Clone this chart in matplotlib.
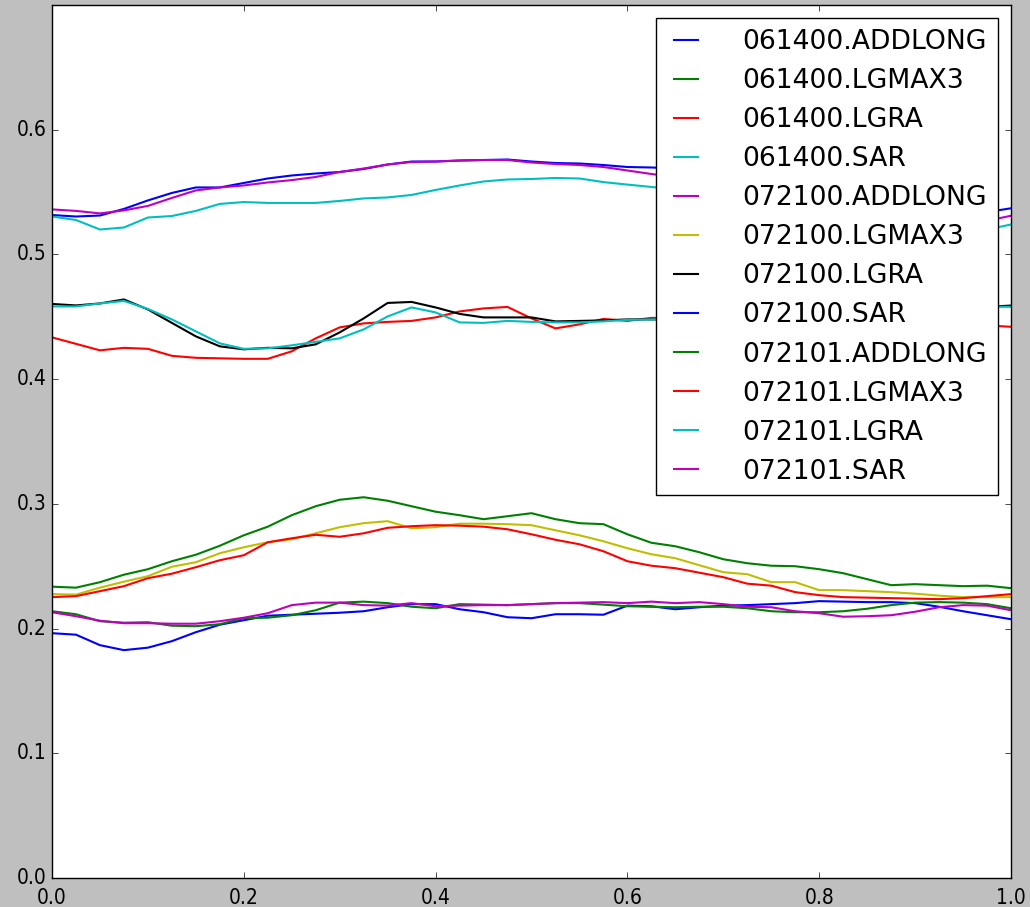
import numpy as np
import matplotlib
matplotlib.use('Agg')
import matplotlib.pyplot as plt

plt.style.use('classic')

# 41 samples on [0, 1]
x = np.linspace(0.0, 1.0, 41)

labels = ['061400.ADDLONG', '061400.LGMAX3', '061400.LGRA', '061400.SAR',
          '072100.ADDLONG', '072100.LGMAX3', '072100.LGRA', '072100.SAR',
          '072101.ADDLONG', '072101.LGMAX3', '072101.LGRA', '072101.SAR']

addlong_061400 = [0.5316, 0.5304, 0.5312, 0.5365, 0.5433, 0.5493, 0.5537, 0.5537, 0.5573, 0.5609,
                  0.5633, 0.5649, 0.5661, 0.5685, 0.5721, 0.5745, 0.5745, 0.5753, 0.5757, 0.5761,
                  0.5745, 0.5733, 0.5729, 0.5717, 0.5701, 0.5697, 0.569, 0.568, 0.567, 0.566,
                  0.564, 0.562, 0.560, 0.558, 0.555, 0.552, 0.549, 0.545, 0.540, 0.534, 0.537]
lgmax3_061400 = [0.2336, 0.2328, 0.2372, 0.2432, 0.2476, 0.2540, 0.2592, 0.2664, 0.2748, 0.2817,
                 0.2909, 0.2981, 0.3033, 0.3053, 0.3025, 0.2981, 0.2937, 0.2909, 0.2877, 0.2901,
                 0.2925, 0.2877, 0.2845, 0.2837, 0.2756, 0.2688, 0.2660, 0.2612, 0.2556, 0.2524,
                 0.2504, 0.2500, 0.2476, 0.2444, 0.2396, 0.2348, 0.2356, 0.2348, 0.2340, 0.2344, 0.2324]
lgra_061400 = [0.4335, 0.4283, 0.4231, 0.4251, 0.4243, 0.4187, 0.4171, 0.4167, 0.4163, 0.4163,
               0.4223, 0.4327, 0.4415, 0.4447, 0.4459, 0.4467, 0.4495, 0.4543, 0.4567, 0.4579,
               0.4487, 0.4407, 0.4439, 0.4483, 0.4467, 0.4491, 0.449, 0.448, 0.449, 0.448,
               0.447, 0.448, 0.449, 0.448, 0.447, 0.446, 0.445, 0.445, 0.444, 0.443, 0.442]
sar_061400 = [0.5304, 0.5276, 0.5200, 0.5216, 0.5296, 0.5308, 0.5349, 0.5405, 0.5420, 0.5413,
              0.5413, 0.5413, 0.5429, 0.5449, 0.5457, 0.5477, 0.5517, 0.5553, 0.5585, 0.5601,
              0.5605, 0.5613, 0.5609, 0.5580, 0.5560, 0.5541, 0.552, 0.550, 0.548, 0.546,
              0.545, 0.543, 0.541, 0.539, 0.537, 0.534, 0.531, 0.528, 0.524, 0.520, 0.524]
addlong_072100 = [0.5361, 0.5349, 0.5329, 0.5353, 0.5389, 0.5453, 0.5513, 0.5537, 0.5553, 0.5577,
                  0.5596, 0.5621, 0.5661, 0.5689, 0.5721, 0.5741, 0.5745, 0.5753, 0.5757, 0.5757,
                  0.5737, 0.5725, 0.5717, 0.5701, 0.5673, 0.5645, 0.562, 0.560, 0.558, 0.556,
                  0.554, 0.552, 0.549, 0.546, 0.543, 0.540, 0.537, 0.533, 0.530, 0.527, 0.531]
lgmax3_072100 = [0.2276, 0.2272, 0.2328, 0.2376, 0.2420, 0.2496, 0.2532, 0.2604, 0.2652, 0.2692,
                 0.2716, 0.2764, 0.2813, 0.2845, 0.2861, 0.2804, 0.2813, 0.2841, 0.2841, 0.2837,
                 0.2829, 0.2788, 0.2748, 0.2700, 0.2644, 0.2596, 0.2564, 0.2508, 0.2452, 0.2436,
                 0.2372, 0.2372, 0.2308, 0.2308, 0.2300, 0.2292, 0.2280, 0.2264, 0.2252, 0.2252, 0.2252]
lgra_072100 = [0.4603, 0.4591, 0.4607, 0.4639, 0.4559, 0.4451, 0.4343, 0.4263, 0.4239, 0.4251,
               0.4247, 0.4279, 0.4375, 0.4487, 0.4611, 0.4619, 0.4575, 0.4523, 0.4495, 0.4495,
               0.4495, 0.4463, 0.4467, 0.4471, 0.4479, 0.4479, 0.448, 0.449, 0.450, 0.451,
               0.451, 0.452, 0.453, 0.453, 0.454, 0.455, 0.456, 0.457, 0.458, 0.458, 0.459]
sar_072100 = [0.1963, 0.1951, 0.1867, 0.1827, 0.1847, 0.1899, 0.1971, 0.2031, 0.2067, 0.2103,
              0.2111, 0.2119, 0.2127, 0.2139, 0.2171, 0.2196, 0.2196, 0.2155, 0.2131, 0.2091,
              0.2083, 0.2115, 0.2115, 0.2111, 0.2184, 0.2179, 0.2155, 0.2171, 0.2184, 0.2188,
              0.2196, 0.2204, 0.2220, 0.2216, 0.2212, 0.2212, 0.2204, 0.2175, 0.2139, 0.2107, 0.2075]
addlong_072101 = [0.2139, 0.2115, 0.2059, 0.2047, 0.2051, 0.2023, 0.2019, 0.2035, 0.2083, 0.2087,
                  0.2107, 0.2147, 0.2208, 0.2216, 0.2204, 0.2175, 0.2163, 0.2196, 0.2192, 0.2188,
                  0.2196, 0.2204, 0.2204, 0.2192, 0.2179, 0.2175, 0.2171, 0.2175, 0.2175, 0.2163,
                  0.2139, 0.2131, 0.2131, 0.2139, 0.2159, 0.2188, 0.2208, 0.2212, 0.2208, 0.2196, 0.2163]
lgmax3_072101 = [0.2252, 0.2260, 0.2300, 0.2340, 0.2404, 0.2440, 0.2492, 0.2548, 0.2588, 0.2692,
                 0.2724, 0.2752, 0.2736, 0.2764, 0.2808, 0.2821, 0.2829, 0.2825, 0.2817, 0.2796,
                 0.2756, 0.2712, 0.2676, 0.2620, 0.2540, 0.2504, 0.2484, 0.2448, 0.2412, 0.2360,
                 0.2344, 0.2292, 0.2268, 0.2252, 0.2248, 0.2244, 0.2240, 0.2236, 0.2244, 0.2260, 0.2276]
lgra_072101 = [0.4583, 0.4583, 0.4607, 0.4627, 0.4563, 0.4479, 0.4383, 0.4287, 0.4243, 0.4247,
               0.4271, 0.4299, 0.4327, 0.4399, 0.4503, 0.4575, 0.4535, 0.4455, 0.4451, 0.4467,
               0.4459, 0.4455, 0.4455, 0.4463, 0.4475, 0.4479, 0.448, 0.449, 0.450, 0.450,
               0.451, 0.452, 0.453, 0.454, 0.454, 0.455, 0.456, 0.457, 0.457, 0.458, 0.458]
sar_072101 = [0.2131, 0.2099, 0.2063, 0.2043, 0.2043, 0.2039, 0.2039, 0.2059, 0.2087, 0.2123,
              0.2188, 0.2208, 0.2208, 0.2188, 0.2184, 0.2204, 0.2179, 0.2184, 0.2188, 0.2188,
              0.2196, 0.2204, 0.2208, 0.2212, 0.2204, 0.2216, 0.2204, 0.2212, 0.2196, 0.2175,
              0.2171, 0.2139, 0.2123, 0.2095, 0.2099, 0.2107, 0.2135, 0.2171, 0.2188, 0.2184, 0.2147]

series = [addlong_061400, lgmax3_061400, lgra_061400, sar_061400,
          addlong_072100, lgmax3_072100, lgra_072100, sar_072100,
          addlong_072101, lgmax3_072101, lgra_072101, sar_072101]

fig = plt.figure(figsize=(10.30, 9.07), dpi=100)
ax = fig.add_axes([52 / 1030, 29 / 907, 959 / 1030, 873 / 907])

for y, lab in zip(series, labels):
    ax.plot(x, y, lw=1.5, label=lab)

ax.set_xlim(0, 1)
ax.set_ylim(0, 0.7)
ax.set_xticks([0.0, 0.2, 0.4, 0.6, 0.8, 1.0])
ax.set_yticks([0.0, 0.1, 0.2, 0.3, 0.4, 0.5, 0.6])
ax.tick_params(labelsize=15)
ax.tick_params(axis='x', pad=7)
for t in ax.get_xticklabels() + ax.get_yticklabels():
    t.set_fontstretch('condensed')

ax.legend(loc='upper right', fontsize=19.2, handlelength=1.5,
          handletextpad=1.35, labelspacing=0.49)

fig.savefig('out.png', dpi=100, facecolor=fig.get_facecolor())
